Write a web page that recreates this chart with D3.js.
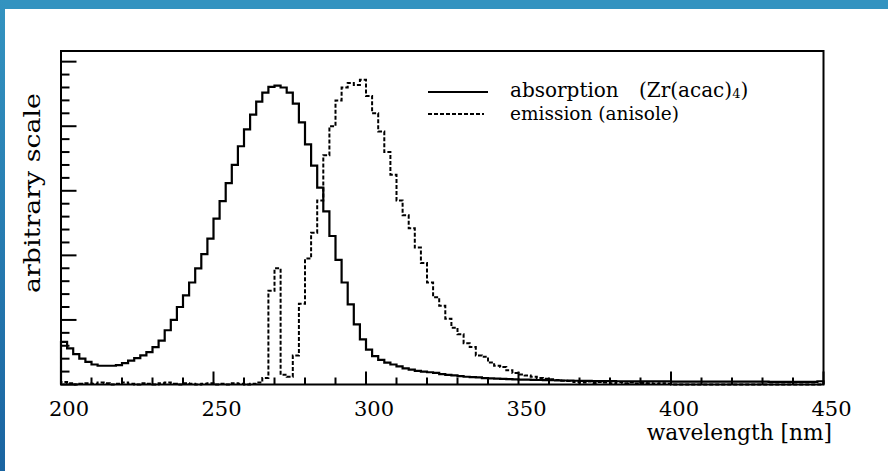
<!DOCTYPE html>
<html>
<head>
<meta charset="utf-8">
<script src="https://cdn.jsdelivr.net/npm/d3@7"></script>
<style>
  body { margin: 0; background: #fff; }
  text { font-family: "DejaVu Serif", "Liberation Serif", serif; fill: #000; }
</style>
</head>
<body>
<div id="chart"></div>
<script>
// bins are 2 nm wide, 200 - 450 nm
var binLow = 200, binWidth = 2;

// absorption (Zr(acac)4), arbitrary units, one value per bin
var absorption = [
  0.66, 0.56, 0.47, 0.40, 0.35, 0.31, 0.29, 0.29, 0.29, 0.30,
  0.33, 0.37, 0.41, 0.45, 0.50, 0.58, 0.68, 0.84, 1.00, 1.20,
  1.38, 1.58, 1.80, 2.02, 2.26, 2.57, 2.84, 3.12, 3.40, 3.69,
  3.95, 4.18, 4.38, 4.52, 4.61, 4.63, 4.60, 4.52, 4.35, 4.06,
  3.72, 3.39, 3.05, 2.68, 2.30, 1.93, 1.58, 1.24, 0.93, 0.70,
  0.54, 0.44, 0.38, 0.34, 0.31, 0.28, 0.25, 0.23, 0.21, 0.20,
  0.19, 0.18, 0.16, 0.15, 0.14, 0.13, 0.12, 0.115, 0.11, 0.10,
  0.095, 0.09, 0.087, 0.083, 0.08, 0.077, 0.074, 0.072, 0.07, 0.068,
  0.066, 0.064, 0.062, 0.06, 0.058, 0.056, 0.055, 0.054, 0.053, 0.052,
  0.051, 0.05, 0.05, 0.049, 0.049, 0.048, 0.048, 0.047, 0.047, 0.047,
  0.046, 0.046, 0.046, 0.045, 0.045, 0.045, 0.045, 0.044, 0.044, 0.044,
  0.044, 0.043, 0.043, 0.043, 0.043, 0.043, 0.042, 0.042, 0.042, 0.042,
  0.042, 0.042, 0.041, 0.041, 0.05
];

// emission (anisole)
var emission = [
  0.04, 0.02, 0, 0.01, 0.02, 0.01, 0.03, 0.02, 0, 0.01,
  0.03, 0.01, 0, 0.02, 0.01, 0, 0.02, 0.03, 0.01, 0,
  0.02, 0.01, 0, 0.01, 0.02, 0, 0.01, 0, 0.02, 0.01,
  0, 0.01, 0.03, 0.10, 1.45, 1.80, 0.15, 0.12, 0.45, 1.25,
  1.95, 2.35, 2.85, 3.55, 4.00, 4.40, 4.60, 4.67, 4.64, 4.72,
  4.47, 4.20, 3.92, 3.60, 3.25, 2.85, 2.62, 2.42, 2.12, 1.88,
  1.58, 1.35, 1.22, 1.02, 0.88, 0.78, 0.64, 0.58, 0.45, 0.43,
  0.34, 0.29, 0.27, 0.22, 0.18, 0.155, 0.14, 0.12, 0.10, 0.09,
  0.08, 0.07, 0.06, 0.055, 0.04, 0.03, 0.045, 0.025, 0.04, 0.03,
  0.02, 0.035, 0.02, 0.03, 0.015, 0.025, 0.02, 0.01, 0.02, 0.01,
  0, 0, 0, 0, 0, 0, 0, 0, 0, 0,
  0, 0, 0, 0, 0, 0, 0, 0, 0, 0,
  0, 0, 0, 0, 0
];

var xTicks = [200, 250, 300, 350, 400, 450];
var legendLabels = ["absorption", "emission (anisole)"];

var W = 888, H = 471;
var frame = { left: 61, right: 823.5, top: 51, bottom: 384.5 };

var svg = d3.select("#chart").append("svg")
    .attr("width", W)
    .attr("height", H);

// slide decoration: blue bars on top and left
var defs = svg.append("defs");
var grad = defs.append("linearGradient")
    .attr("id", "sideGrad")
    .attr("x1", 0).attr("y1", 0).attr("x2", 0).attr("y2", 1);
grad.append("stop").attr("offset", "0%").attr("stop-color", "#3393c0");
grad.append("stop").attr("offset", "100%").attr("stop-color", "#1a64a1");
svg.append("rect").attr("x", 0).attr("y", 0).attr("width", W).attr("height", 9).attr("fill", "#3393c0");
svg.append("rect").attr("x", 0).attr("y", 0).attr("width", 5).attr("height", H).attr("fill", "url(#sideGrad)");

var x = d3.scaleLinear().domain([200, 450]).range([frame.left, frame.right]);
var y = d3.scaleLinear().domain([0, 5.165]).range([frame.bottom, frame.top]);

// step path like a ROOT "HIST" drawing
function histPath(vals) {
    var p = d3.path();
    p.moveTo(x(binLow), y(0));
    vals.forEach(function (v, i) {
        var lo = binLow + i * binWidth;
        p.lineTo(x(lo), y(v));
        p.lineTo(x(lo + binWidth), y(v));
    });
    p.lineTo(x(binLow + vals.length * binWidth), y(0));
    return p.toString();
}

var plot = svg.append("g");

plot.append("path")
    .attr("d", histPath(emission))
    .attr("fill", "none")
    .attr("stroke", "#000")
    .attr("stroke-width", 2)
    .attr("stroke-dasharray", "4,2");

plot.append("path")
    .attr("d", histPath(absorption))
    .attr("fill", "none")
    .attr("stroke", "#000")
    .attr("stroke-width", 2.2);

// x axis ticks (inside the frame)
var xMinor = d3.range(200, 451, 10);
svg.append("g").selectAll("line").data(xMinor).join("line")
    .attr("x1", function (d) { return x(d); })
    .attr("x2", function (d) { return x(d); })
    .attr("y1", frame.bottom)
    .attr("y2", function (d) { return frame.bottom - (d % 50 === 0 ? 13 : 7); })
    .attr("stroke", "#000")
    .attr("stroke-width", 2);

svg.append("g").selectAll("text").data(xTicks).join("text")
    .attr("x", function (d) { return x(d) + 8; })
    .attr("y", 416)
    .attr("text-anchor", "middle")
    .style("font-size", "21px")
    .text(function (d) { return d; });

// y axis ticks, no labels
var yMinor = d3.range(0, 26).map(function (i) { return i * 0.2; });
svg.append("g").selectAll("line").data(yMinor).join("line")
    .attr("x1", frame.left)
    .attr("x2", function (d, i) { return frame.left + (i % 5 === 0 ? 15.5 : 8.5); })
    .attr("y1", function (d) { return y(d); })
    .attr("y2", function (d) { return y(d); })
    .attr("stroke", "#000")
    .attr("stroke-width", 2);

// frame
svg.append("rect")
    .attr("x", frame.left)
    .attr("y", frame.top)
    .attr("width", frame.right - frame.left)
    .attr("height", frame.bottom - frame.top)
    .attr("fill", "none")
    .attr("stroke", "#000")
    .attr("stroke-width", 2);

// axis titles
svg.append("text")
    .attr("x", 832)
    .attr("y", 440)
    .attr("text-anchor", "end")
    .style("font-size", "21.7px")
    .text("wavelength [nm]");

svg.append("text")
    .attr("transform", "translate(40,193) rotate(-90)")
    .attr("text-anchor", "middle")
    .attr("textLength", 200)
    .attr("lengthAdjust", "spacingAndGlyphs")
    .style("font-size", "22px")
    .text("arbitrary scale");

// legend
var leg = svg.append("g");
leg.append("line")
    .attr("x1", 428).attr("x2", 488).attr("y1", 92).attr("y2", 92)
    .attr("stroke", "#000").attr("stroke-width", 2);
leg.append("line")
    .attr("x1", 428).attr("x2", 484).attr("y1", 114).attr("y2", 114)
    .attr("stroke", "#000").attr("stroke-width", 2)
    .attr("stroke-dasharray", "4,2");

var t1 = leg.append("text").attr("x", 510).attr("y", 97).style("font-size", "20px");
t1.append("tspan").text(legendLabels[0]);
t1.append("tspan").attr("x", 639).text("(Zr(acac)");
t1.append("tspan").attr("dy", 1).style("font-size", "13px").text("4");
t1.append("tspan").attr("dy", -1).text(")");

leg.append("text").attr("x", 510).attr("y", 120).style("font-size", "18.5px")
    .text(legendLabels[1]);
</script>
</body>
</html>
